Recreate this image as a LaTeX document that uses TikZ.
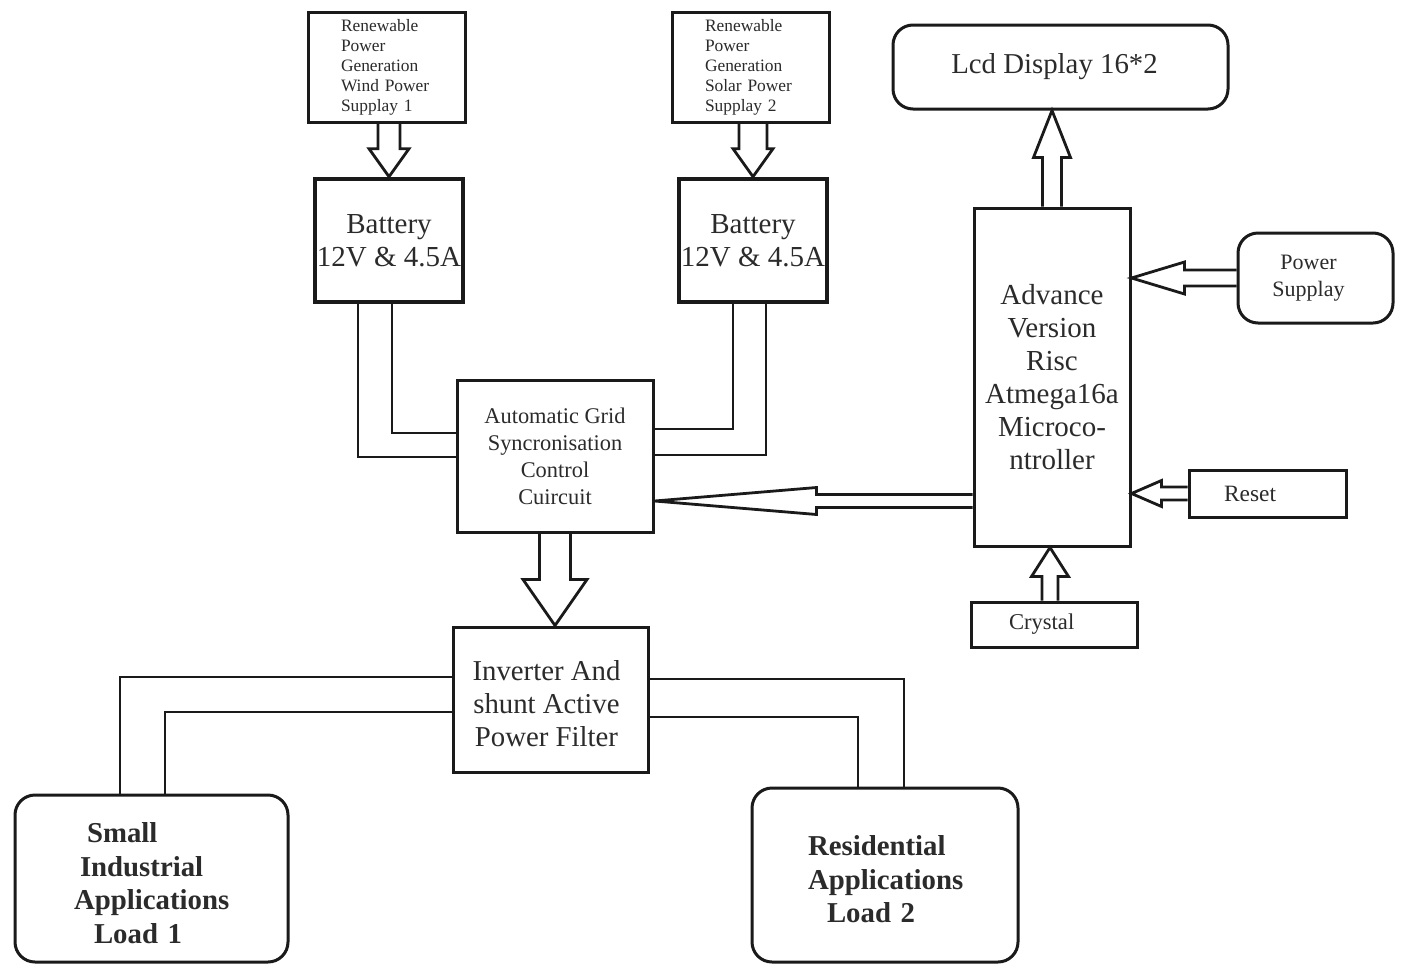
\documentclass[tikz,border=0pt]{standalone}
\usepackage{fontspec}
\setmainfont{Liberation Serif}
\usetikzlibrary{calc}
\definecolor{ink}{HTML}{1A1A1A}
\definecolor{txt}{HTML}{2B2B2B}
\newcommand\fs[2]{\fontsize{#1}{#2}\selectfont}
\newcommand\blockarrow[5]{%
  \coordinate (ba) at #1;
  \coordinate (bt) at #2;
  \coordinate (bh) at ($(bt)!#5!(ba)$);
  \draw[blk] ($(ba)!#3!90:(bt)$) -- ($(bh)!#3!90:(bt)$) -- ($(bh)!#4!90:(bt)$) -- (bt)
    -- ($(bh)!#4!-90:(bt)$) -- ($(bh)!#3!-90:(bt)$) -- ($(ba)!#3!-90:(bt)$);
}
\tikzset{
  box/.style={draw=ink, line width=1.5pt, inner sep=0pt, text=txt, align=center},
  batbox/.style={box, line width=2.3pt},
  rbox/.style={box, rounded corners=10pt},
  blk/.style={draw=ink, line width=1.4pt, line join=miter},
  wire/.style={draw=ink, line width=1.4pt},
}
\begin{document}
\begin{tikzpicture}[x=0.5pt, y=-0.5pt]
\useasboundingbox (0,0) rectangle (1402,964);
\fill[white] (0,0) rectangle (1402,964);

% sources
\node[box, minimum width=78.5pt, minimum height=55pt, text width=45.5pt, inner xsep=16.5pt, align=left, font=\fs{8.7}{10}] (src1) at (386.5,67) {Renewable\\Power\\Generation\\Wind Power\\Supplay 1};
\node[box, minimum width=78.5pt, minimum height=55pt, text width=45.5pt, inner xsep=16.5pt, align=left, font=\fs{8.7}{10}] (src2) at (750.5,67) {Renewable\\Power\\Generation\\Solar Power\\Supplay 2};

% batteries
\node[batbox, minimum width=74pt, minimum height=61.5pt, font=\fs{14.5}{16.5}] (bat1) at (389,240.5) {Battery\\12V \& 4.5A};
\node[batbox, minimum width=74pt, minimum height=61.5pt, font=\fs{14.5}{16.5}] (bat2) at (753,240.5) {Battery\\12V \& 4.5A};

% control circuit and inverter
\node[box, minimum width=98pt, minimum height=76pt, font=\fs{11.2}{13.5}] (agsc) at (555,456) {Automatic Grid\\Syncronisation\\Control\\Cuircuit};
\node[box, minimum width=97.5pt, minimum height=72.5pt, font=\fs{14.4}{16.5}] (inv) at (550.5,699.5) {\rule{0pt}{14.5pt}\hspace*{-4pt}Inverter And\\\hspace*{-4pt}shunt Active\\\hspace*{-4pt}Power Filter};

% loads
\node[rbox, minimum width=136.5pt, minimum height=83.5pt, text width=77.5pt, inner xsep=29.5pt, align=left, font=\bfseries\fs{14.4}{16.75}] (load1) at (151.5,878.5) {\rule{0pt}{14.5pt}\hspace*{6.5pt}Small\\\hspace*{3pt}Industrial\\Applications\\\hspace*{10pt}Load 1};
\node[rbox, minimum width=133pt, minimum height=87pt, text width=77pt, inner xsep=28pt, align=left, font=\bfseries\fs{14.4}{16.75}] (load2) at (885,875) {\rule{0pt}{14.5pt}Residential\\Applications\\\hspace*{9.5pt}Load 2};

% microcontroller side
\node[rbox, minimum width=167.5pt, minimum height=42pt, font=\fs{14.4}{16.5}] (lcd) at (1060.5,67) {\hspace*{-6pt}Lcd Display 16*2};
\node[box, minimum width=78pt, minimum height=169pt, font=\fs{14.5}{16.5}] (mcu) at (1052,377) {Advance\\Version\\Risc\\Atmega16a\\Microco-\\ntroller};
\node[rbox, minimum width=77.5pt, minimum height=45pt, font=\fs{11}{13.5}] (ps) at (1315.5,278) {\hspace*{-7pt}Power\\\hspace*{-7pt}Supplay};
\node[box, minimum width=78.5pt, minimum height=23.5pt, text width=43.5pt, inner xsep=17.5pt, align=left, font=\fs{11.7}{13.5}] (reset) at (1267.5,493.5) {Reset};
\node[box, minimum width=83pt, minimum height=22.5pt, text width=45pt, inner xsep=19pt, align=left, font=\fs{11.3}{13.5}] (crystal) at (1054,624.5) {Crystal};

% double-line connectors
\draw[wire] ([xshift=-15.5pt]bat1.south) |- ([yshift=-0.5pt]agsc.west);
\draw[wire] ([xshift=1.5pt]bat1.south) |- ([yshift=11.5pt]agsc.west);
\draw[wire] ([xshift=-10pt]bat2.south) |- ([yshift=13.5pt]agsc.east);
\draw[wire] ([xshift=6.5pt]bat2.south) |- ([yshift=0.5pt]agsc.east);
\draw[wire] ([yshift=11.25pt]inv.west) -| ([xshift=-15.75pt]load1.north);
\draw[wire] ([yshift=-6.25pt]inv.west) -| ([xshift=6.75pt]load1.north);
\draw[wire] ([yshift=10.25pt]inv.east) -| ([xshift=9.5pt]load2.north);
\draw[wire] ([yshift=-8.75pt]inv.east) -| ([xshift=-13.5pt]load2.north);

% block arrows
\blockarrow{(src1.south -| bat1.north)}{(bat1.north)}{5.5pt}{10pt}{14pt}
\blockarrow{(src2.south -| bat2.north)}{(bat2.north)}{7pt}{10pt}{14pt}
\blockarrow{(agsc.south)}{(agsc.south |- inv.north)}{7.75pt}{16pt}{23pt}
\blockarrow{(mcu.north)}{(mcu.north |- lcd.south)}{4.75pt}{9.25pt}{23.5pt}
\blockarrow{(ps.west)}{(ps.west -| mcu.east)}{4pt}{8pt}{26.5pt}
\blockarrow{(reset.west)}{(reset.west -| mcu.east)}{3.25pt}{6.5pt}{15pt}
\blockarrow{([xshift=-2pt]crystal.north)}{(ba |- mcu.south)}{4pt}{9.25pt}{14.5pt}
\blockarrow{([yshift=-62pt]mcu.west)}{(ba -| agsc.east)}{3.25pt}{6.75pt}{81pt}
\end{tikzpicture}
\end{document}
